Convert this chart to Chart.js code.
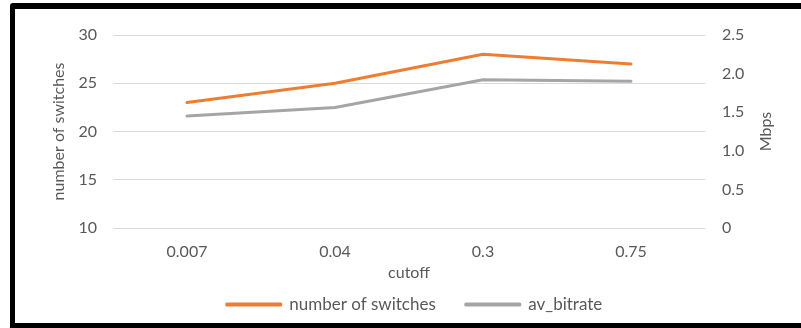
<!DOCTYPE html>
<html><head><meta charset="utf-8">
<script src="https://cdn.jsdelivr.net/npm/chart.js@4/dist/chart.umd.min.js"></script>
<style>
html,body{margin:0;padding:0;background:#fff;}
#wrap{position:relative;width:801px;height:328px;overflow:hidden;background:#fff;}
#frame{position:absolute;left:10px;top:3px;width:830px;height:325px;box-sizing:border-box;border:5px solid #000;border-top-width:6px;border-radius:3px 0 0 0;pointer-events:none;}
</style></head><body>
<div id="wrap"><canvas id="c" width="801" height="328"></canvas><div id="frame"></div></div>
<script>
// cutoff values on the category axis
const categories = ['0.007', '0.04', '0.3', '0.75'];

// series
const switchesLabel = 'number of switches';
const switches = [23, 25, 28, 27];
const bitrateLabel = 'av_bitrate';
const bitrate = [1.45, 1.56, 1.92, 1.90];

// axis ranges
const leftRange = { min: 10, max: 30, step: 5 };
const rightRange = { min: 0, max: 2.5, step: 0.5 };
const rightTitle = 'Mbps';

const FONT = 'Lato, "Open Sans", sans-serif';
const TXT = '#595959';
const PLOT_BOTTOM = 228;

// secondary axis title, drawn reading bottom-to-top like the primary one
const rightTitlePlugin = {
  id: 'rightTitle',
  afterDraw(chart) {
    const s = chart.scales.y1;
    const ctx = chart.ctx;
    ctx.save();
    ctx.fillStyle = TXT;
    ctx.font = '16px ' + FONT;
    ctx.textAlign = 'center';
    ctx.textBaseline = 'middle';
    ctx.translate(s.right - 35, (chart.chartArea.top + chart.chartArea.bottom) / 2);
    ctx.rotate(-Math.PI / 2);
    ctx.fillText(rightTitle, 0, 0);
    ctx.restore();
  }
};

new Chart(document.getElementById('c'), {
  type: 'line',
  data: {
    labels: categories,
    datasets: [
      { label: switchesLabel, data: switches, yAxisID: 'y', borderColor: '#ED7D31', backgroundColor: '#ED7D31', borderWidth: 3, pointRadius: 0, borderCapStyle: 'round', borderJoinStyle: 'round', tension: 0 },
      { label: bitrateLabel, data: bitrate, yAxisID: 'y1', borderColor: '#A5A5A5', backgroundColor: '#A5A5A5', borderWidth: 3, pointRadius: 0, borderCapStyle: 'round', borderJoinStyle: 'round', tension: 0 }
    ]
  },
  plugins: [rightTitlePlugin],
  options: {
    responsive: false,
    animation: false,
    devicePixelRatio: 1,
    layout: { padding: { left: 28, right: 0, top: 35, bottom: 5 } },
    plugins: {
      tooltip: { enabled: false },
      legend: {
        position: 'bottom',
        labels: { boxWidth: 54, boxHeight: 1, padding: 30, color: TXT, font: { family: FONT, size: 17 } }
      }
    },
    scales: {
      x: {
        offset: true,
        grid: { display: false, drawTicks: false },
        border: { display: false },
        ticks: { color: TXT, font: { family: FONT, size: 16 }, padding: 14, maxRotation: 0 },
        title: { display: true, text: 'cutoff', color: TXT, font: { family: FONT, size: 16 }, padding: { top: 0, bottom: -16 } },
        afterFit: s => { s.height = s.chart.height - 5 - s.chart.legend.height - PLOT_BOTTOM; }
      },
      y: {
        position: 'left',
        min: leftRange.min, max: leftRange.max,
        ticks: { stepSize: leftRange.step, color: TXT, font: { family: FONT, size: 16 }, padding: 16 },
        grid: { color: '#D9D9D9', lineWidth: 1, drawTicks: false },
        border: { display: false },
        title: { display: true, text: 'number of switches', color: TXT, font: { family: FONT, size: 16 }, padding: { top: 21, bottom: 0 } },
        afterFit: s => { s.width = 85; }
      },
      y1: {
        position: 'right',
        min: rightRange.min, max: rightRange.max,
        ticks: { stepSize: rightRange.step, color: TXT, font: { family: FONT, size: 16 }, padding: 17 },
        grid: { display: false, drawTicks: false },
        border: { display: false },
        title: { display: false },
        afterFit: s => { s.width = 96; }
      }
    }
  }
});
</script>
</body></html>
